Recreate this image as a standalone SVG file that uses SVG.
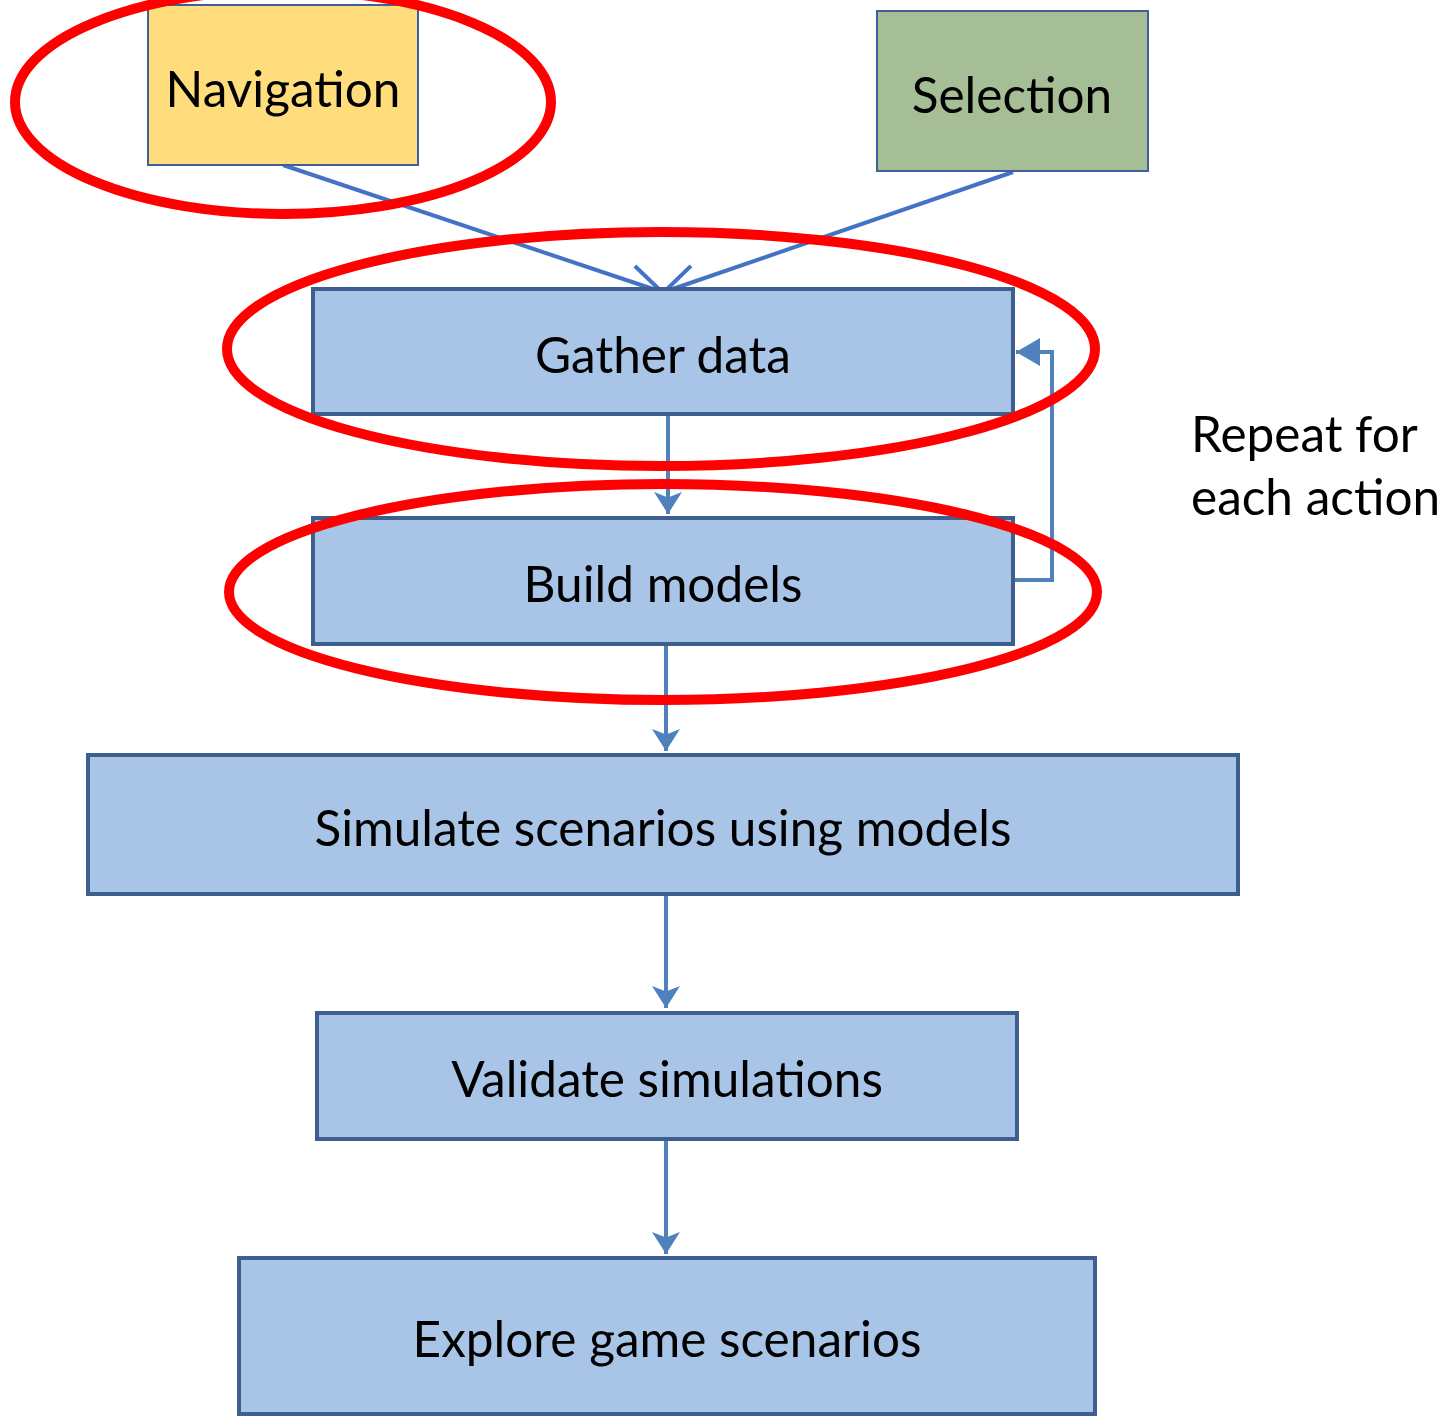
<svg xmlns="http://www.w3.org/2000/svg" width="1448" height="1418" viewBox="0 0 1448 1418">
<defs>
<style>
.lbl{font-family:Lato,"Liberation Sans",sans-serif;font-size:49.5px;fill:#000;text-anchor:middle}
.step{fill:#A8C5E8;stroke:#3C5F8F;stroke-width:4}
.top{stroke:#3E5F9B;stroke-width:2}
.flow{fill:none;stroke:#4F81BD;stroke-width:4}
.feed{fill:none;stroke:#4472C4;stroke-width:4}
.ring{fill:none;stroke:#FF0000;stroke-width:10}
</style>
<marker id="down" markerWidth="6.5" markerHeight="8" refX="5.5" refY="4" orient="auto" markerUnits="strokeWidth">
<path d="M0,0.5 L5.5,4 L0,7.5 L1.4,4 Z" fill="#4F81BD"/>
</marker>
<marker id="vee" markerWidth="12" markerHeight="12" refX="10" refY="6" orient="auto" markerUnits="strokeWidth">
<path d="M1.5,2 L10,6 L1.5,10" fill="none" stroke="#4472C4" stroke-width="1"/>
</marker>
<marker id="tri" markerWidth="7" markerHeight="7" refX="6" refY="3.5" orient="auto" markerUnits="strokeWidth">
<path d="M0,0 L6,3.5 L0,7 Z" fill="#4F81BD"/>
</marker>
</defs>
<rect width="1448" height="1418" fill="#fff"/>

<g id="connectors">
<line class="feed" x1="283" y1="165" x2="662" y2="292" marker-end="url(#vee)"/>
<line class="feed" x1="1013" y1="172" x2="664" y2="292" marker-end="url(#vee)"/>
<line class="flow" x1="668" y1="414" x2="668" y2="514" marker-end="url(#down)"/>
<line class="flow" x1="666" y1="645" x2="666" y2="751" marker-end="url(#down)"/>
<line class="flow" x1="666" y1="895" x2="666" y2="1008" marker-end="url(#down)"/>
<line class="flow" x1="666" y1="1140" x2="666" y2="1254" marker-end="url(#down)"/>
<polyline class="flow" points="1013,580 1052,580 1052,352 1016,352" marker-end="url(#tri)"/>
</g>

<g id="navigation">
<rect class="top" x="148" y="5" width="270" height="160" fill="#FFDC7C"/>
<text class="lbl" x="283" y="107">Navigation</text>
</g>
<g id="selection">
<rect class="top" x="877" y="11" width="271" height="160" fill="#A5BE96"/>
<text class="lbl" x="1012" y="113">Selection</text>
</g>
<g id="gather-data">
<rect class="step" x="313" y="289" width="700" height="125"/>
<text class="lbl" x="663" y="373">Gather data</text>
</g>
<g id="build-models">
<rect class="step" x="313" y="518" width="700" height="126"/>
<text class="lbl" x="663" y="602">Build models</text>
</g>
<g id="simulate">
<rect class="step" x="88" y="755" width="1150" height="139"/>
<text class="lbl" x="663" y="846">Simulate scenarios using models</text>
</g>
<g id="validate">
<rect class="step" x="317" y="1013" width="700" height="126"/>
<text class="lbl" x="667" y="1097">Validate simulations</text>
</g>
<g id="explore">
<rect class="step" x="239" y="1258" width="856" height="156"/>
<text class="lbl" x="667" y="1357">Explore game scenarios</text>
</g>

<g id="repeat-note">
<text class="lbl" style="text-anchor:start" x="1191" y="452">Repeat for</text>
<text class="lbl" style="text-anchor:start" x="1191" y="515">each action</text>
</g>

<g id="highlights">
<ellipse class="ring" cx="283" cy="102" rx="268" ry="112"/>
<ellipse class="ring" cx="661" cy="349" rx="434" ry="117"/>
<ellipse class="ring" cx="663" cy="592" rx="434" ry="108"/>
</g>
</svg>
